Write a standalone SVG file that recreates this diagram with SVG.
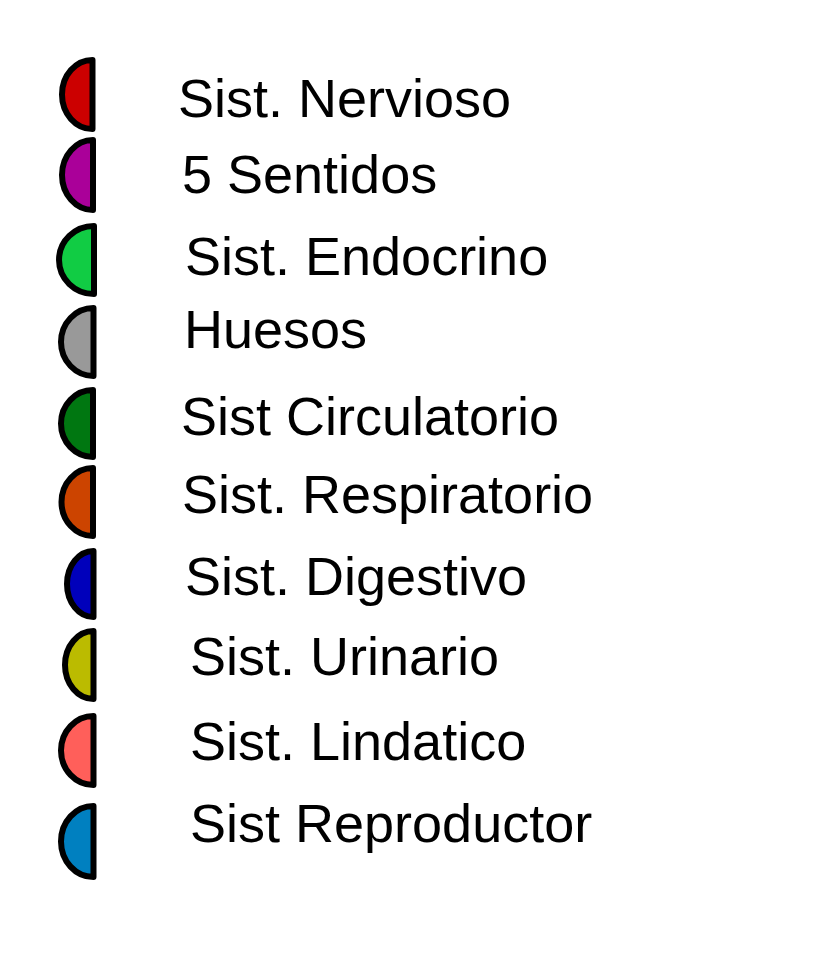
<svg xmlns="http://www.w3.org/2000/svg" width="827" height="960" viewBox="0 0 827 960">
<style>
.sw{stroke:#000;stroke-width:6;stroke-linejoin:round}
.lb{font-family:"Liberation Sans",Arial,sans-serif;font-size:54px;fill:#000}
</style>
<rect width="827" height="960" fill="#fff"/>
<g id="nervioso"><path class="sw" fill="#cc0000" d="M92.5,60 L92.5,129 A30.5,34.5 0 0 1 92.5,60 Z"/><text class="lb" x="178" y="117">Sist. Nervioso</text></g>
<g id="sentidos"><path class="sw" fill="#aa0099" d="M93,140 L93,210 A31,35 0 0 1 93,140 Z"/><text class="lb" x="182" y="193">5 Sentidos</text></g>
<g id="endocrino"><path class="sw" fill="#11cc44" d="M94,226 L94,294 A35,34 0 0 1 94,226 Z"/><text class="lb" x="185" y="275">Sist. Endocrino</text></g>
<g id="huesos"><path class="sw" fill="#999999" d="M93.5,308 L93.5,376 A32.5,34 0 0 1 93.5,308 Z"/><text class="lb" x="184" y="348">Huesos</text></g>
<g id="circulatorio"><path class="sw" fill="#007711" d="M93,390 L93,457 A32,33.5 0 0 1 93,390 Z"/><text class="lb" x="181" y="435">Sist Circulatorio</text></g>
<g id="respiratorio"><path class="sw" fill="#cc4400" d="M93,468 L93,536 A31.5,34 0 0 1 93,468 Z"/><text class="lb" x="182" y="513">Sist. Respiratorio</text></g>
<g id="digestivo"><path class="sw" fill="#0000bb" d="M93.5,551 L93.5,617 A26.5,33 0 0 1 93.5,551 Z"/><text class="lb" x="185" y="595">Sist. Digestivo</text></g>
<g id="urinario"><path class="sw" fill="#bbbb00" d="M93.5,631 L93.5,699 A28.5,34 0 0 1 93.5,631 Z"/><text class="lb" x="190" y="675">Sist. Urinario</text></g>
<g id="lindatico"><path class="sw" fill="#ff5f5a" d="M93.5,716 L93.5,785 A32.5,34.5 0 0 1 93.5,716 Z"/><text class="lb" x="190" y="760">Sist. Lindatico</text></g>
<g id="reproductor"><path class="sw" fill="#0080c0" d="M93.5,806 L93.5,877 A32.5,35.5 0 0 1 93.5,806 Z"/><text class="lb" x="190" y="842">Sist Reproductor</text></g>
<g id="connectors"></g>
</svg>
